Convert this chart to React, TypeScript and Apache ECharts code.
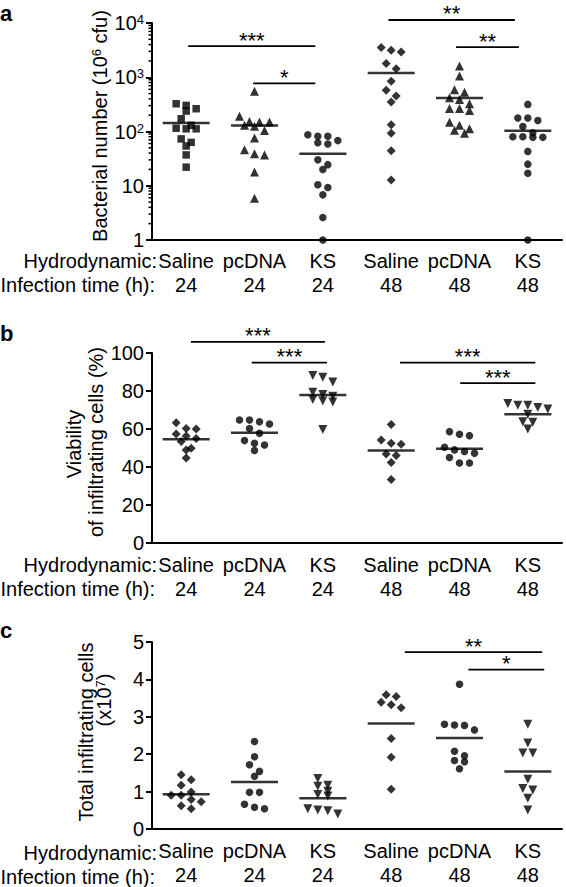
import React, { useEffect, useRef } from "react";
import * as echarts from "echarts";

const FONT = "'Liberation Sans', Arial, Helvetica, sans-serif";

// ---------- categories ----------
const groupNames = ["Saline", "pcDNA", "KS", "Saline", "pcDNA", "KS"];
const hours = ["24", "24", "24", "48", "48", "48"];
const rowLabels = ["Hydrodynamic:", "Infection time (h):"];

// ---------- panel a: bacterial number (10^6 cfu), log scale ----------
const aSaline24 = [325, 303, 263, 238, 172, 130, 115, 112, 112, 73, 63, 54, 37, 22];
const aPcDNA24 = [550, 192, 153, 149, 149, 130, 125, 104, 76, 46, 39, 37, 18, 5.9];
const aKS24 = [87, 82, 82, 68, 62, 59, 30, 24.5, 20, 10.4, 9.3, 6.8, 2.6, 1];
const aSaline48 = [3540, 3160, 2930, 1790, 1440, 840, 575, 450, 350, 133, 93, 44, 12.7];
const aPcDNA48 = [1620, 1050, 590, 530, 420, 390, 325, 265, 265, 245, 148, 130, 112, 105, 93];
const aKS48 = [316, 178, 178, 160, 124, 95, 80, 80, 78, 78, 43, 25, 17, 1];
const aMeans = [143, 129, 39, 1200, 415, 103];
const aTicks = [1, 10, 100, 1000, 10000];
const aBrackets = [
  [0.53, 2.39, 3740],
  [1.48, 2.39, 774],
  [3.46, 5.31, 11370],
  [4.45, 5.37, 3590],
];
const aStars = ["***", "*", "**", "**"];

// ---------- panel b: viability of infiltrating cells (%) ----------
const bSaline24 = [63.3, 60.3, 60, 57.4, 56.3, 55, 53.4, 49.9, 49, 44.7];
const bPcDNA24 = [64.7, 64.7, 63.8, 62.6, 60.3, 57.7, 53.9, 52.5, 51.6, 48.7];
const bKS24 = [88.2, 87.3, 84.7, 79.4, 78.2, 77.2, 75.5, 74.8, 74.2, 59.8];
const bSaline48 = [62.4, 54.2, 52.5, 52, 46.9, 46, 42.4, 33.4];
const bPcDNA48 = [58.6, 57.2, 56.5, 50.4, 49, 48.2, 47.3, 45, 42.1, 42.1];
const bKS48 = [73.4, 72.5, 72.5, 71.3, 70.5, 67.8, 63.8, 63.5, 60];
const bMeans = [54.6, 58, 77.9, 48.7, 49.6, 67.8];
const bBrackets = [
  [0.57, 2.53, 105.9],
  [1.46, 2.56, 94.9],
  [3.63, 5.61, 94.9],
  [4.51, 5.61, 84.1],
];
const bStars = ["***", "***", "***", "***"];

// ---------- panel c: total infiltrating cells (x10^7) ----------
const cSaline24 = [1.45, 1.32, 1.17, 0.99, 0.9, 0.9, 0.79, 0.73, 0.62, 0.54];
const cPcDNA24 = [2.34, 1.93, 1.72, 1.54, 1.41, 0.98, 0.98, 0.66, 0.58, 0.54];
const cKS24 = [1.35, 1.17, 1.14, 1.01, 0.92, 0.88, 0.54, 0.51, 0.49, 0.4];
const cSaline48 = [3.59, 3.54, 3.39, 3.32, 3.24, 2.42, 1.92, 1.06];
const cPcDNA48 = [3.87, 2.8, 2.78, 2.77, 2.65, 2.08, 1.96, 1.83, 1.8, 1.61];
const cKS48 = [2.8, 2.3, 2.03, 2.03, 1.33, 1.08, 1.04, 0.82, 0.51];
const cMeans = [0.93, 1.26, 0.82, 2.82, 2.43, 1.54];
const cBrackets = [
  [3.7, 5.71, 4.73],
  [4.63, 5.74, 4.26],
];
const cStars = ["**", "*"];

// ---------- layout ----------
const W = 566;
const H = 887;
const GRID_LEFT = 152;
const GRID_W = 410;
const GRIDS = [
  { top: 23, height: 217, labelMargin: 9 },
  { top: 353, height: 190, labelMargin: 10 },
  { top: 642, height: 189, labelMargin: 10 },
];
const COL_W = GRID_W / 6;
const SLOT = 10 / COL_W; // horizontal step of the dot swarm, in axis units
const BIN_PX = 7;
const LINE_H = 24;

const symbolsA = ["rect", "triangle", "circle", "diamond", "triangle", "circle"];
const symbolsBC = ["diamond", "circle", "triangle", "diamond", "circle", "triangle"];
const rotBC = [0, 0, 180, 0, 0, 180];
const symbolSize: Record<string, number> = { rect: 7.5, triangle: 9, circle: 7.5, diamond: 9 };

function swarm(vals: number[], col: number, toPx: (v: number) => number) {
  const sorted = [...vals].sort((p, q) => q - p);
  const out: number[][] = [];
  let i = 0;
  while (i < sorted.length) {
    const start = toPx(sorted[i]);
    let j = i;
    while (j < sorted.length && start - toPx(sorted[j]) < BIN_PX) j++;
    const n = j - i;
    for (let k = 0; k < n; k++) {
      out.push([col + 0.5 + (k - (n - 1) / 2) * SLOT, sorted[i + k]]);
    }
    i = j;
  }
  return out;
}

function buildOption() {
  const panels = [
    {
      groups: [aSaline24, aPcDNA24, aKS24, aSaline48, aPcDNA48, aKS48],
      means: aMeans,
      brackets: aBrackets,
      stars: aStars,
      symbols: symbolsA,
      rot: [0, 0, 0, 0, 0, 0],
      toPx: (v: number) => (Math.log10(v) * GRIDS[0].height) / 4,
    },
    {
      groups: [bSaline24, bPcDNA24, bKS24, bSaline48, bPcDNA48, bKS48],
      means: bMeans,
      brackets: bBrackets,
      stars: bStars,
      symbols: symbolsBC,
      rot: rotBC,
      toPx: (v: number) => (v * GRIDS[1].height) / 100,
    },
    {
      groups: [cSaline24, cPcDNA24, cKS24, cSaline48, cPcDNA48, cKS48],
      means: cMeans,
      brackets: cBrackets,
      stars: cStars,
      symbols: symbolsBC,
      rot: rotBC,
      toPx: (v: number) => (v * GRIDS[2].height) / 5,
    },
  ];

  const grid = GRIDS.map((g) => ({ left: GRID_LEFT, width: GRID_W, top: g.top, height: g.height }));

  const axisLineStyle = { color: "#000", width: 2 };
  const labelBase = { color: "#000", fontSize: 20, fontFamily: FONT };

  const xAxis: any[] = [];
  GRIDS.forEach((_, p) => {
    xAxis.push({ type: "value", gridIndex: p, min: 0, max: 6, show: false, position: "top" });
  });
  GRIDS.forEach((g, p) => {
    xAxis.push({
      type: "category",
      gridIndex: p,
      position: "bottom",
      data: groupNames.map((n, i) => n + "\n" + hours[i]),
      boundaryGap: true,
      axisLine: { onZero: false, lineStyle: axisLineStyle },
      axisTick: { show: false },
      splitLine: { show: false },
      axisLabel: { ...labelBase, interval: 0, margin: g.labelMargin, lineHeight: LINE_H },
    });
  });

  const yCommon = {
    axisLine: { show: true, onZero: false, lineStyle: axisLineStyle },
    axisTick: { show: true, length: 6, lineStyle: { color: "#000", width: 2 } },
    splitLine: { show: false },
  };
  const yAxis: any[] = [
    {
      ...yCommon,
      type: "log",
      logBase: 10,
      gridIndex: 0,
      min: aTicks[0],
      max: aTicks[aTicks.length - 1],
      splitNumber: 4,
      axisLabel: {
        ...labelBase,
        margin: 8,
        formatter: (v: number) => {
          const e = Math.round(Math.log10(v));
          if (e === 0) return "{b|1}";
          if (e === 1) return "{b|10}";
          return "{b|10}{s|" + e + "}";
        },
        rich: {
          b: { fontSize: 20, fontFamily: FONT, color: "#000" },
          s: { fontSize: 13, fontFamily: FONT, color: "#000", verticalAlign: "top" },
        },
      },
    },
    {
      ...yCommon,
      type: "value",
      gridIndex: 1,
      min: 0,
      max: 100,
      interval: 20,
      axisLabel: { ...labelBase, margin: 8 },
    },
    {
      ...yCommon,
      type: "value",
      gridIndex: 2,
      min: 0,
      max: 5,
      interval: 1,
      axisLabel: { ...labelBase, margin: 8 },
    },
  ];

  const series: any[] = [];
  panels.forEach((pan, p) => {
    pan.groups.forEach((vals, g) => {
      const sym = pan.symbols[g];
      series.push({
        type: "scatter",
        xAxisIndex: p,
        yAxisIndex: p,
        symbol: sym,
        symbolRotate: pan.rot[g],
        symbolSize: symbolSize[sym],
        itemStyle: { color: "#000" },
        silent: true,
        z: 3,
        data: swarm(vals, g, pan.toPx),
      });
    });
    // mean lines
    series.push({
      type: "scatter",
      xAxisIndex: p,
      yAxisIndex: p,
      symbol: "rect",
      symbolSize: [47, 2.5],
      itemStyle: { color: "#000" },
      silent: true,
      z: 4,
      data: pan.means.map((m, g) => [g + 0.5, m]),
    });
    // significance brackets
    const stars = pan.stars;
    series.push({
      type: "custom",
      xAxisIndex: p,
      yAxisIndex: p,
      clip: false,
      silent: true,
      z: 5,
      encode: { x: [0, 1], y: 2 },
      data: pan.brackets,
      renderItem: (params: any, api: any) => {
        const p1 = api.coord([api.value(0), api.value(2)]);
        const p2 = api.coord([api.value(1), api.value(2)]);
        return {
          type: "group",
          children: [
            {
              type: "line",
              shape: { x1: p1[0], y1: p1[1], x2: p2[0], y2: p1[1] },
              style: { stroke: "#000", lineWidth: 1.8 },
            },
            {
              type: "text",
              x: (p1[0] + p2[0]) / 2,
              y: p1[1] - 6,
              style: {
                text: stars[params.dataIndex],
                fill: "#000",
                fontSize: 22,
                fontFamily: FONT,
                align: "center",
                verticalAlign: "middle",
              },
            },
          ],
        };
      },
    });
  });

  // log minor ticks for panel a (2..9 within each decade)
  const minor: number[][] = [];
  for (let d = 0; d < aTicks.length - 1; d++) {
    for (let m = 2; m <= 9; m++) minor.push([0, m * aTicks[d]]);
  }
  series.push({
    type: "custom",
    xAxisIndex: 0,
    yAxisIndex: 0,
    clip: false,
    silent: true,
    encode: { x: 0, y: 1 },
    data: minor,
    renderItem: (_params: any, api: any) => {
      const pt = api.coord([api.value(0), api.value(1)]);
      return {
        type: "line",
        shape: { x1: pt[0] - 3.5, y1: pt[1], x2: pt[0], y2: pt[1] },
        style: { stroke: "#000", lineWidth: 1.5 },
      };
    },
  });

  const graphic: any[] = [];
  const txt = (x: number, y: number, text: string, extra: any = {}) => ({
    type: "text",
    x,
    y,
    silent: true,
    style: {
      text,
      fill: "#000",
      fontSize: 20,
      fontFamily: FONT,
      align: "right",
      verticalAlign: "middle",
      ...extra,
    },
  });
  GRIDS.forEach((g) => {
    const top = g.top + g.height + g.labelMargin;
    graphic.push(txt(157, top + LINE_H / 2, rowLabels[0]));
    graphic.push(txt(155, top + LINE_H / 2 + LINE_H, rowLabels[1]));
  });
  // panel letters
  [["a", 6], ["b", 326], ["c", 623]].forEach(([l, y]) => {
    graphic.push(
      txt(0, y as number, l as string, {
        align: "left",
        verticalAlign: "top",
        fontSize: 22,
        lineHeight: 14,
        fontWeight: "bold",
      })
    );
  });
  const supRich = { s: { fontSize: 13, fontFamily: FONT, fill: "#000", verticalAlign: "top" } };
  const vtxt = (x: number, y: number, text: string) => ({
    ...txt(x, y, text, { align: "center", rich: supRich }),
    rotation: Math.PI / 2,
  });
  graphic.push(vtxt(100, 126, "Bacterial number (10{s|6} cfu)"));
  graphic.push(vtxt(74, 444, "Viability"));
  graphic.push(vtxt(96, 442, "of infiltrating cells (%)"));
  graphic.push(vtxt(86, 732, "Total infiltrating cells"));
  graphic.push(vtxt(104, 700, "(x10{s|7})"));

  return {
    animation: false,
    backgroundColor: "#fff",
    textStyle: { fontFamily: FONT },
    grid,
    xAxis,
    yAxis,
    series,
    graphic,
  };
}

export default function App() {
  const ref = useRef<HTMLDivElement>(null);
  useEffect(() => {
    document.body.style.margin = "0";
    const chart = echarts.init(ref.current!, undefined, { renderer: "svg" });
    chart.setOption(buildOption() as any);
    return () => chart.dispose();
  }, []);
  return <div ref={ref} style={{ width: W, height: H }} />;
}
